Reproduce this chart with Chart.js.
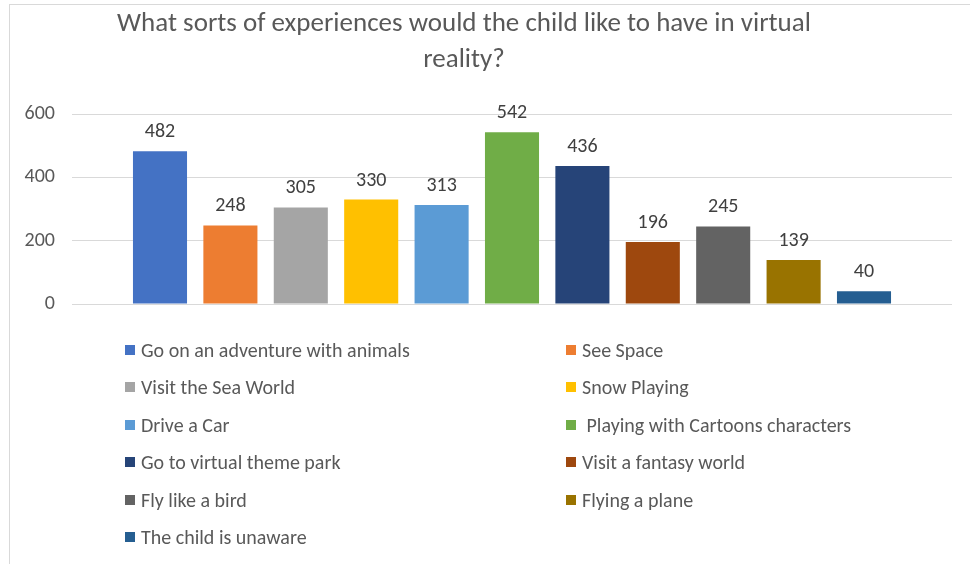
<!DOCTYPE html>
<html>
<head>
<meta charset="utf-8">
<script src="https://cdn.jsdelivr.net/npm/chart.js@4.4.1/dist/chart.umd.min.js"></script>
<style>
  html, body { margin: 0; padding: 0; background: #ffffff; }
  #wrap { position: relative; width: 970px; height: 564px; overflow: hidden; background: #ffffff; }
  #frame { position: absolute; left: 9px; top: 4px; right: -4px; bottom: -4px;
           border-left: 1px solid #d9d9d9; border-top: 1px solid #d9d9d9; }
  #chart { position: absolute; left: 0; top: 0; }
  #legend { position: absolute; left: 0; top: 0; width: 970px; height: 564px; pointer-events: none; }
  .item { position: absolute; display: flex; align-items: center; height: 22px;
          font-family: Carlito, Lato, sans-serif; font-size: 20px; color: #595959; white-space: pre; }
  .swatch { width: 10px; height: 10px; margin-right: 6px; flex: none; }
</style>
</head>
<body>
<div id="wrap">
  <div id="frame"></div>
  <canvas id="chart" width="970" height="564"></canvas>
  <div id="legend"></div>
</div>
<script>
// Survey answers: one bar per experience
const seriesNames = [
  "Go on an adventure with animals",
  "See Space",
  "Visit the Sea World",
  "Snow Playing",
  "Drive a Car",
  " Playing with Cartoons characters",
  "Go to virtual theme park",
  "Visit a fantasy world",
  "Fly like a bird",
  "Flying a plane",
  "The child is unaware"
];
const seriesValues = [482, 248, 305, 330, 313, 542, 436, 196, 245, 139, 40];
const seriesColors = [
  "#4472C4", "#ED7D31", "#A5A5A5", "#FFC000", "#5B9BD5", "#70AD47",
  "#264478", "#9E480E", "#636363", "#997300", "#255E91"
];
const yTicks = [0, 200, 400, 600];
const titleLines = ["What sorts of experiences would the child like to have in virtual", "reality?"];

const FONT = "Carlito, Lato, sans-serif";
const TEXT = "#595959";

const datasets = seriesNames.map((name, i) => ({
  label: name,
  data: [seriesValues[i]],
  backgroundColor: seriesColors[i],
  borderWidth: 0
}));

// Two-line title, centred a little left of the plot like the sheet's chart box
const chartTitle = {
  id: "chartTitle",
  afterDraw(chart) {
    const ctx = chart.ctx;
    ctx.save();
    ctx.font = "27px " + FONT;
    ctx.fillStyle = TEXT;
    ctx.textAlign = "center";
    ctx.textBaseline = "middle";
    titleLines.forEach((line, i) => ctx.fillText(line, 464, 24 + i * 36));
    ctx.restore();
  }
};

// Value labels above every bar
const valueLabels = {
  id: "valueLabels",
  afterDatasetsDraw(chart) {
    const ctx = chart.ctx;
    ctx.save();
    ctx.font = "20px " + FONT;
    ctx.fillStyle = "#404040";
    ctx.textAlign = "center";
    ctx.textBaseline = "middle";
    chart.data.datasets.forEach((ds, i) => {
      const bar = chart.getDatasetMeta(i).data[0];
      ctx.fillText(String(ds.data[0]), bar.x, bar.y - 19);
    });
    ctx.restore();
  }
};

const chart = new Chart(document.getElementById("chart"), {
  type: "bar",
  data: { labels: [""], datasets },
  options: {
    responsive: false,
    animation: false,
    events: [],
    categoryPercentage: 0.88,
    barPercentage: 0.768,
    layout: { padding: { left: 10, right: 18, top: 114, bottom: 260 } },
    plugins: {
      legend: { display: false },
      tooltip: { enabled: false },
      title: { display: false }
    },
    scales: {
      x: { display: false },
      y: {
        min: yTicks[0],
        max: yTicks[yTicks.length - 1],
        afterBuildTicks(scale) { scale.ticks = yTicks.map(v => ({ value: v })); },
        afterFit(scale) { scale.width = 62; },
        border: { display: false },
        grid: { color: "#d9d9d9", lineWidth: 1, drawTicks: false },
        ticks: { color: TEXT, padding: 17, font: { family: FONT, size: 20 } }
      }
    }
  },
  plugins: [chartTitle, valueLabels]
});

// Two-column legend built from the chart's datasets
const legend = document.getElementById("legend");
chart.data.datasets.forEach((ds, i) => {
  const row = Math.floor(i / 2), col = i % 2;
  const item = document.createElement("div");
  item.className = "item";
  item.style.left = (col === 0 ? 125 : 566) + "px";
  item.style.top = (339 + row * 37.4) + "px";
  const sw = document.createElement("span");
  sw.className = "swatch";
  sw.style.background = ds.backgroundColor;
  const tx = document.createElement("span");
  tx.textContent = ds.label;
  item.appendChild(sw);
  item.appendChild(tx);
  legend.appendChild(item);
});
</script>
</body>
</html>
